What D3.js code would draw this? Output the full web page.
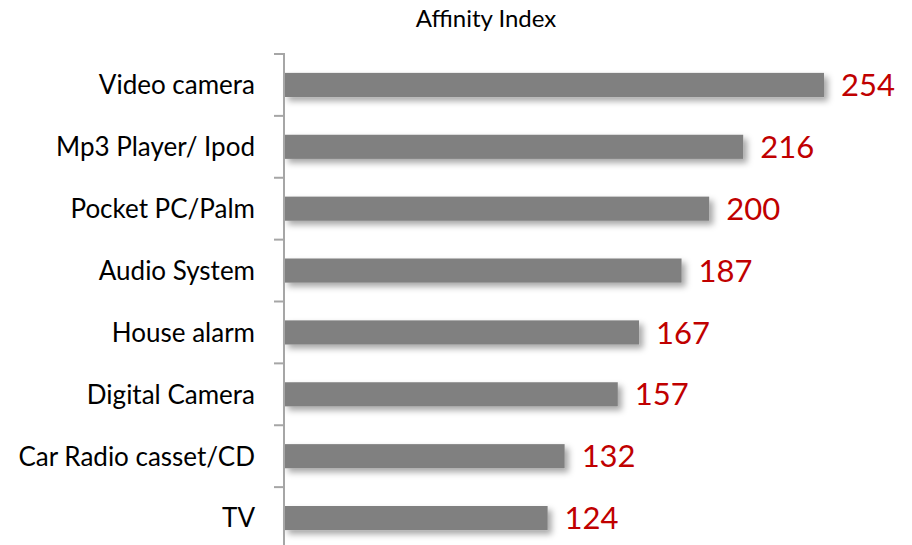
<!DOCTYPE html>
<html>
<head>
<meta charset="utf-8">
<script src="https://cdn.jsdelivr.net/npm/d3@7"></script>
<style>
  body { margin: 0; background: #fff; }
  text { font-family: Lato, "Open Sans", sans-serif; }
</style>
</head>
<body>
<svg id="chart" width="912" height="545"></svg>
<script>
var categories = ['Video camera', 'Mp3 Player/ Ipod', 'Pocket PC/Palm', 'Audio System',
                  'House alarm', 'Digital Camera', 'Car Radio casset/CD', 'TV'];
var values = [254, 216, 200, 187, 167, 157, 132, 124];
var title = 'Affinity Index';

var svg = d3.select('#chart');

var defs = svg.append('defs');
var f = defs.append('filter')
    .attr('id', 'shadow')
    .attr('x', '-5%').attr('y', '-30%')
    .attr('width', '115%').attr('height', '190%');
f.append('feDropShadow')
    .attr('dx', 4).attr('dy', 4)
    .attr('stdDeviation', 3)
    .attr('flood-color', '#000')
    .attr('flood-opacity', 0.35);

var x = d3.scaleLinear().domain([0, 254]).range([284, 824]);
var y = d3.scaleBand().domain(categories).range([54, 549]).paddingInner(0.61).paddingOuter(0.305);

// bars
svg.append('g').selectAll('rect')
    .data(values)
    .enter().append('rect')
    .attr('x', x(0))
    .attr('y', function (d, i) { return y(categories[i]); })
    .attr('width', function (d) { return x(d) - x(0); })
    .attr('height', y.bandwidth())
    .attr('fill', '#808080')
    .attr('filter', 'url(#shadow)');

// axis line and ticks at band boundaries
var axis = svg.append('g').attr('stroke', '#a6a6a6').attr('stroke-width', 2);
axis.append('line')
    .attr('x1', 284).attr('x2', 284)
    .attr('y1', 53).attr('y2', 545);
var step = y.step();
axis.selectAll('line.tick')
    .data(d3.range(categories.length))
    .enter().append('line')
    .attr('class', 'tick')
    .attr('x1', 274).attr('x2', 284)
    .attr('y1', function (i) { return 54 + i * step; })
    .attr('y2', function (i) { return 54 + i * step; });

// category labels
svg.append('g').selectAll('text')
    .data(categories)
    .enter().append('text')
    .attr('x', 255)
    .attr('y', function (d) { return y(d) + y.bandwidth() / 2; })
    .attr('dy', '0.36em')
    .attr('text-anchor', 'end')
    .attr('font-size', 26)
    .attr('fill', '#000')
    .text(function (d) { return d; });

// value labels
svg.append('g').selectAll('text')
    .data(values)
    .enter().append('text')
    .attr('x', function (d) { return x(d) + 17; })
    .attr('y', function (d, i) { return y(categories[i]) + y.bandwidth() / 2; })
    .attr('dy', '0.36em')
    .attr('font-size', 31)
    .attr('fill', '#c00000')
    .text(function (d) { return d; });

svg.append('text')
    .attr('x', 486)
    .attr('y', 27)
    .attr('text-anchor', 'middle')
    .attr('font-size', 24)
    .attr('fill', '#000')
    .text(title);
</script>
</body>
</html>
